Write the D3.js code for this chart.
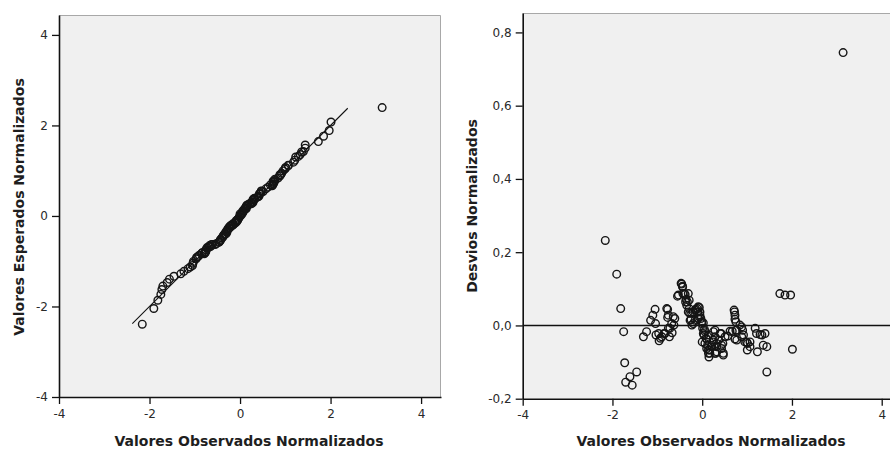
<!DOCTYPE html>
<html>
<head>
<meta charset="utf-8">
<script src="https://cdn.jsdelivr.net/npm/d3@7"></script>
<style>
  body { margin: 0; background: #fff; }
  svg { display: block; }
  text { font-family: "DejaVu Sans", Verdana, sans-serif; }
</style>
</head>
<body>
<svg id="chart" width="890" height="450"></svg>
<script>
// Observed standardized values (x in both panels)
const observed = [
  -2.16, -1.905, -1.816, -1.75, -1.727, -1.705, -1.61, -1.56, -1.46,
  -1.31, -1.24, -1.15, -1.10, -1.05, -1.04, -1.03, -0.97, -0.96, -0.93, -0.90, -0.85, -0.83,
  -0.79, -0.77, -0.77, -0.755, -0.755, -0.73, -0.72, -0.68, -0.67, -0.645, -0.63, -0.61,
  -0.55, -0.53, -0.47, -0.457, -0.44, -0.435, -0.43, -0.40, -0.38, -0.37, -0.36, -0.345, -0.33, -0.31, -0.31,
  -0.29, -0.29, -0.28, -0.27, -0.25, -0.235, -0.23, -0.20, -0.20, -0.16, -0.16, -0.145, -0.11, -0.10, -0.09,
  -0.087, -0.065, -0.065, -0.05, -0.05, -0.03, -0.01, -0.01,
  0.01, 0.025, 0.025, 0.00, 0.04, 0.05, 0.06, 0.06, 0.085, 0.10, 0.10, 0.12, 0.14, 0.14, 0.14, 0.15, 0.17, 0.17,
  0.21, 0.21, 0.25, 0.25, 0.25, 0.285, 0.285, 0.285, 0.30, 0.32, 0.32, 0.32, 0.37, 0.40, 0.42, 0.43, 0.43,
  0.46, 0.47, 0.47, 0.51, 0.57, 0.62, 0.67,
  0.71, 0.72, 0.73, 0.73, 0.75, 0.75, 0.73, 0.77, 0.77, 0.84, 0.88, 0.88, 0.90, 0.92, 0.95, 0.99, 1.005, 1.01,
  1.065, 1.065, 1.18, 1.21, 1.23, 1.29, 1.33, 1.36, 1.40, 1.44, 1.44, 1.73, 1.845, 1.97, 2.01, 3.14
];

// Expected normal scores (y in the Q-Q panel)
const expected = [
  -2.392, -2.045, -1.862, -1.733, -1.625, -1.55, -1.47, -1.397, -1.333,
  -1.279, -1.223, -1.164, -1.128, -1.094, -1.045, -1.004, -0.948, -0.918, -0.895, -0.869, -0.828, -0.808,
  -0.836, -0.814, -0.792, -0.783, -0.747, -0.699, -0.712, -0.685, -0.65, -0.669, -0.631, -0.629,
  -0.63, -0.613, -0.585, -0.57, -0.547, -0.54, -0.517, -0.487, -0.465, -0.434, -0.431, -0.40, -0.394, -0.397, -0.347,
  -0.359, -0.336, -0.313, -0.284, -0.266, -0.268, -0.231, -0.205, -0.237, -0.174, -0.202, -0.189, -0.156, -0.137, -0.109,
  -0.138, -0.114, -0.089, -0.087, -0.078, -0.049, -0.02, -0.015,
  0.018, 0.018, 0.047, 0.045, 0.066, 0.061, 0.077, 0.109, 0.12, 0.138, 0.163, 0.174, 0.166, 0.207, 0.216, 0.236, 0.237, 0.246,
  0.264, 0.268, 0.267, 0.29, 0.295, 0.298, 0.316, 0.361, 0.376, 0.369, 0.378, 0.392, 0.41, 0.422, 0.442, 0.484, 0.493,
  0.509, 0.546, 0.551, 0.541, 0.599, 0.636, 0.686,
  0.668, 0.683, 0.702, 0.713, 0.74, 0.763, 0.767, 0.81, 0.783, 0.839, 0.884, 0.911, 0.913, 0.946, 0.995, 1.035, 1.072, 1.059,
  1.11, 1.123, 1.188, 1.232, 1.302, 1.315, 1.356, 1.414, 1.422, 1.498, 1.567, 1.643, 1.762, 1.887, 2.075, 2.395
];

// Deviations from normal (y in the detrended panel)
const deviation = [
  0.232, 0.140, 0.046, -0.017, -0.102, -0.155, -0.140, -0.163, -0.127,
  -0.031, -0.017, 0.014, 0.028, 0.044, 0.005, -0.026, -0.022, -0.042, -0.035, -0.031, -0.022, -0.022,
  0.046, 0.044, 0.022, 0.028, -0.008, -0.031, -0.008, 0.005, -0.020, 0.024, 0.001, 0.019,
  0.080, 0.083, 0.115, 0.113, 0.107, 0.105, 0.087, 0.087, 0.085, 0.064, 0.071, 0.055, 0.064, 0.087, 0.037,
  0.069, 0.046, 0.033, 0.014, 0.016, 0.033, 0.001, 0.005, 0.037, 0.014, 0.042, 0.044, 0.046, 0.037, 0.019,
  0.051, 0.049, 0.024, 0.037, 0.028, 0.019, 0.010, 0.005,
  -0.008, 0.007, -0.022, -0.045, -0.026, -0.011, -0.017, -0.049, -0.035, -0.038, -0.063, -0.054, -0.026, -0.067, -0.076, -0.086, -0.067, -0.076,
  -0.054, -0.058, -0.017, -0.040, -0.045, -0.013, -0.031, -0.076, -0.076, -0.049, -0.058, -0.072, -0.040, -0.022, -0.022, -0.054, -0.063,
  -0.049, -0.076, -0.081, -0.031, -0.029, -0.016, -0.016,
  0.042, 0.037, 0.028, 0.017, 0.010, -0.013, -0.037, -0.040, -0.013, 0.001, -0.004, -0.031, -0.013, -0.026, -0.045, -0.045, -0.067, -0.049,
  -0.045, -0.058, -0.008, -0.022, -0.072, -0.025, -0.026, -0.054, -0.022, -0.058, -0.127, 0.087, 0.083, 0.083, -0.065, 0.745
];

// Axis ticks and labels
const xTickValues = [-4, -2, 0, 2, 4];
const xTickLabels = ["-4", "-2", "0", "2", "4"];
const qqTickValues = [-4, -2, 0, 2, 4];
const qqTickLabels = ["-4", "-2", "0", "2", "4"];
const devTickValues = [-0.2, 0, 0.2, 0.4, 0.6, 0.8];
const devTickLabels = ["-0,2", "0,0", "0,2", "0,4", "0,6", "0,8"];

// Reference line extent for y = x in the Q-Q panel
const refLine = [-2.38, 2.38];
const baseline = 0;

const xTitle = "Valores Observados Normalizados";
const qqTitle = "Valores Esperados Normalizados";
const devTitle = "Desvios Normalizados";

const svg = d3.select("#chart");

function drawPanel(opt) {
  const x = d3.scaleLinear().domain(opt.xDomain).range([opt.left, opt.right]);
  const y = d3.scaleLinear().domain(opt.yDomain).range([opt.bottom, opt.top]);
  const g = svg.append("g");

  // plot background
  g.append("rect")
    .attr("x", opt.left).attr("y", opt.top)
    .attr("width", opt.right - opt.left).attr("height", opt.bottom - opt.top)
    .attr("fill", "#f0f0f0");

  // light frame on top and right
  g.append("path")
    .attr("d", `M${opt.left},${opt.top + 0.5}H${opt.right - 0.5}V${opt.bottom}`)
    .attr("fill", "none").attr("stroke", "#a8a8a8").attr("stroke-width", 1);

  // axes
  const ax = g.append("g").attr("transform", `translate(0,${opt.bottom})`)
    .call(d3.axisBottom(x).tickValues(xTickValues)
      .tickFormat((d, i) => xTickLabels[i]).tickSize(7).tickSizeOuter(0).tickPadding(5));
  const ay = g.append("g").attr("transform", `translate(${opt.left},0)`)
    .call(d3.axisLeft(y).tickValues(opt.yTicks)
      .tickFormat((d, i) => opt.yLabels[i]).tickSize(7).tickSizeOuter(0).tickPadding(4));
  [ax, ay].forEach(a => {
    a.select(".domain").attr("stroke", "#111").attr("stroke-width", 1.6);
    a.selectAll(".tick line").attr("stroke", "#111").attr("stroke-width", 1.3);
    a.selectAll(".tick text").attr("fill", "#2a2a2a").style("font-size", "12px")
      .style("font-family", '"DejaVu Sans", Verdana, sans-serif');
  });

  // axis titles
  g.append("text")
    .attr("x", opt.xTitleX).attr("y", 446)
    .attr("text-anchor", "middle")
    .style("font-size", "14px").style("font-weight", "bold").attr("fill", "#1e1e1e")
    .text(xTitle);
  g.append("text")
    .attr("transform", `translate(${opt.yTitleX},${opt.yTitleY}) rotate(-90)`)
    .attr("text-anchor", "middle")
    .style("font-size", "14px").style("font-weight", "bold").attr("fill", "#1e1e1e")
    .text(opt.yTitle);

  return { g, x, y };
}

// Normal Q-Q plot
const qq = drawPanel({
  left: 59, right: 441, top: 15, bottom: 397,
  xDomain: [-4, 4.44], yDomain: [-4, 4.44],
  yTicks: qqTickValues, yLabels: qqTickLabels,
  xTitleX: 249, yTitleX: 24, yTitleY: 207, yTitle: qqTitle
});
qq.g.append("line")
  .attr("x1", qq.x(refLine[0])).attr("y1", qq.y(refLine[0]))
  .attr("x2", qq.x(refLine[1])).attr("y2", qq.y(refLine[1]))
  .attr("stroke", "#111").attr("stroke-width", 1.1);
qq.g.append("g").selectAll("circle")
  .data(observed.map((v, i) => [v, expected[i]]))
  .join("circle")
  .attr("cx", d => qq.x(d[0])).attr("cy", d => qq.y(d[1]))
  .attr("r", 3.8).attr("fill", "none").attr("stroke", "#151515").attr("stroke-width", 1.4);

// Detrended normal Q-Q plot
const dt = drawPanel({
  left: 522.7, right: 891, top: 13, bottom: 398.7,
  xDomain: [-4, 4.207], yDomain: [-0.2, 0.853],
  yTicks: devTickValues, yLabels: devTickLabels,
  xTitleX: 711, yTitleX: 477, yTitleY: 206, yTitle: devTitle
});
dt.g.append("line")
  .attr("x1", dt.x.range()[0]).attr("x2", dt.x.range()[1])
  .attr("y1", dt.y(baseline)).attr("y2", dt.y(baseline))
  .attr("stroke", "#111").attr("stroke-width", 1.4);
dt.g.append("g").selectAll("circle")
  .data(observed.map((v, i) => [v, deviation[i]]))
  .join("circle")
  .attr("cx", d => dt.x(d[0])).attr("cy", d => dt.y(d[1]))
  .attr("r", 3.8).attr("fill", "none").attr("stroke", "#151515").attr("stroke-width", 1.4);
</script>
</body>
</html>
